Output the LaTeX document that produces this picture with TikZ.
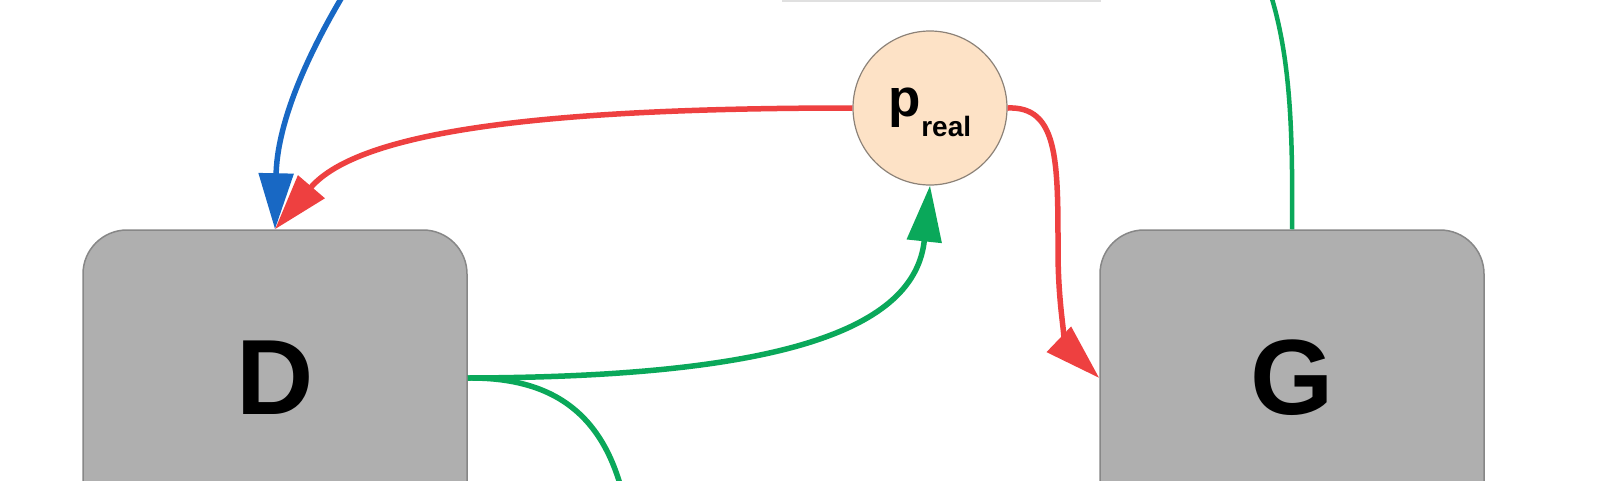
\documentclass[tikz,border=0pt]{standalone}
\usepackage{fontspec}
\setmainfont{Liberation Sans}
\usetikzlibrary{arrows.meta}
\definecolor{boxgray}{RGB}{175,175,175}
\definecolor{boxedge}{RGB}{135,135,135}
\definecolor{peach}{RGB}{253,226,198}
\definecolor{peachedge}{RGB}{140,130,120}
\definecolor{lineblue}{RGB}{24,104,196}
\definecolor{linered}{RGB}{238,64,64}
\definecolor{linegreen}{RGB}{10,168,90}
\tikzset{
  blockbox/.style={draw=boxedge, line width=1.5pt, fill=boxgray, rounded corners=44pt,
    minimum width=384pt, minimum height=296pt, inner sep=0pt,
    font=\fontsize{107}{107}\selectfont\bfseries},
  probnode/.style={circle, draw=peachedge, line width=1.2pt, fill=peach, minimum size=154pt, inner sep=0pt},
  topbox/.style={draw=black!12, line width=2pt, fill=white, minimum width=317pt, minimum height=80pt, inner sep=0pt},
  conn/.style={line width=5.5pt},
  bigtip/.style={-{Triangle[length=56pt,width=34pt]}},
}
\begin{document}
\begin{tikzpicture}[x=1pt,y=-1pt]
\useasboundingbox (0,0) rectangle (1600,480);
\clip (0,0) rectangle (1600,480);
\fill[white] (0,0) rectangle (1600,480);
\node[topbox] (top) at (941,-39) {};
\node[blockbox] (D) at (275,378) {D};
\node[blockbox] (G) at (1292,378) {G};
\node[probnode] (P) at (930,108) {\bfseries{\fontsize{53}{53}\selectfont p}\raisebox{-20pt}[0pt][0pt]{\fontsize{28}{28}\selectfont real}};
\coordinate (bstart) at (365,-40);
\coordinate (gend) at (1262,-30);
\coordinate (dlow) at (628,520);
% blue
\draw[conn, lineblue, bigtip] (bstart) .. controls (300,60) and (277,130) .. (D.north);
% red to D
\draw[conn, linered, bigtip] (P.west) .. controls (550,108) and (360,130) .. (D.north);
% red to G
\draw[conn, linered, bigtip] (P.east) .. controls (1058,106) and (1058,160) .. (1058,250) .. controls (1058,320) and (1070,350) .. (G.west);
% green D -> P
\draw[conn, linegreen, bigtip] (D.east) .. controls (780,377) and (915,330) .. (P.south);
% green D -> down
\draw[conn, linegreen] (D.east) .. controls (560,377) and (612,420) .. (dlow);
% green G -> up
\draw[line width=4.5pt, linegreen] (G.north) .. controls (1293,120) and (1290,40) .. (gend);
\end{tikzpicture}
\end{document}
